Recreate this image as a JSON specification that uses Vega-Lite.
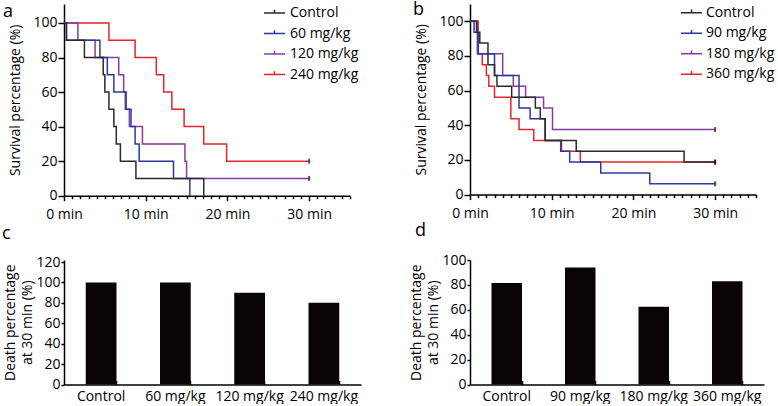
{
  "$schema": "https://vega.github.io/schema/vega-lite/v6.json",
  "background": "white",
  "padding": {"left": 2, "top": 1, "right": 0, "bottom": 0},
  "config": {
    "font": "Open Sans",
    "view": {"stroke": null},
    "axis": {"labelFont": "Open Sans", "labelFontSize": 14, "labelColor": "#000", "titleFont": "Open Sans", "titleFontSize": 14, "titleFontWeight": "normal", "titleColor": "#000", "domainColor": "#000", "tickColor": "#000", "domainWidth": 1.5, "tickWidth": 1.5, "grid": false, "labelOverlap": false},
    "legend": {"labelFont": "Open Sans", "labelFontSize": 14, "labelColor": "#000", "padding": 0},
    "title": {"font": "Open Sans", "fontSize": 18, "fontWeight": "normal", "color": "#000", "anchor": "start", "frame": "group", "baseline": "alphabetic", "offset": 0}
  },
  "datasets": {
    "curvesA": [
      {"group": "240 mg/kg", "time": 0, "survival": 100, "censored": false},
      {"group": "240 mg/kg", "time": 5.5, "survival": 90, "censored": false},
      {"group": "240 mg/kg", "time": 8.7, "survival": 80, "censored": false},
      {"group": "240 mg/kg", "time": 11.3, "survival": 70, "censored": false},
      {"group": "240 mg/kg", "time": 12.2, "survival": 60, "censored": false},
      {"group": "240 mg/kg", "time": 13.2, "survival": 50, "censored": false},
      {"group": "240 mg/kg", "time": 14.7, "survival": 40, "censored": false},
      {"group": "240 mg/kg", "time": 17.1, "survival": 30, "censored": false},
      {"group": "240 mg/kg", "time": 19.9, "survival": 20, "censored": false},
      {"group": "240 mg/kg", "time": 30, "survival": 20, "censored": true},
      {"group": "120 mg/kg", "time": 0, "survival": 100, "censored": false},
      {"group": "120 mg/kg", "time": 1.7, "survival": 90, "censored": false},
      {"group": "120 mg/kg", "time": 3.8, "survival": 80, "censored": false},
      {"group": "120 mg/kg", "time": 6.7, "survival": 70, "censored": false},
      {"group": "120 mg/kg", "time": 7.3, "survival": 60, "censored": false},
      {"group": "120 mg/kg", "time": 7.5, "survival": 50, "censored": false},
      {"group": "120 mg/kg", "time": 8.0, "survival": 40, "censored": false},
      {"group": "120 mg/kg", "time": 9.6, "survival": 30, "censored": false},
      {"group": "120 mg/kg", "time": 14.8, "survival": 20, "censored": false},
      {"group": "120 mg/kg", "time": 15.0, "survival": 10, "censored": false},
      {"group": "120 mg/kg", "time": 30, "survival": 10, "censored": true},
      {"group": "60 mg/kg", "time": 0, "survival": 100, "censored": false},
      {"group": "60 mg/kg", "time": 0.3, "survival": 90, "censored": false},
      {"group": "60 mg/kg", "time": 4.4, "survival": 80, "censored": false},
      {"group": "60 mg/kg", "time": 5.3, "survival": 70, "censored": false},
      {"group": "60 mg/kg", "time": 6.1, "survival": 60, "censored": false},
      {"group": "60 mg/kg", "time": 7.6, "survival": 50, "censored": false},
      {"group": "60 mg/kg", "time": 8.2, "survival": 40, "censored": false},
      {"group": "60 mg/kg", "time": 8.7, "survival": 30, "censored": false},
      {"group": "60 mg/kg", "time": 9.2, "survival": 20, "censored": false},
      {"group": "60 mg/kg", "time": 13.4, "survival": 10, "censored": false},
      {"group": "60 mg/kg", "time": 15.4, "survival": 0, "censored": false},
      {"group": "Control", "time": 0, "survival": 100, "censored": false},
      {"group": "Control", "time": 0.3, "survival": 90, "censored": false},
      {"group": "Control", "time": 2.5, "survival": 80, "censored": false},
      {"group": "Control", "time": 4.8, "survival": 70, "censored": false},
      {"group": "Control", "time": 5.0, "survival": 60, "censored": false},
      {"group": "Control", "time": 5.5, "survival": 50, "censored": false},
      {"group": "Control", "time": 6.1, "survival": 40, "censored": false},
      {"group": "Control", "time": 6.4, "survival": 30, "censored": false},
      {"group": "Control", "time": 6.9, "survival": 20, "censored": false},
      {"group": "Control", "time": 8.8, "survival": 10, "censored": false},
      {"group": "Control", "time": 17.1, "survival": 0, "censored": false}
    ],
    "curvesB": [
      {"group": "360 mg/kg", "time": 0, "survival": 100, "censored": false},
      {"group": "360 mg/kg", "time": 1.0, "survival": 81.25, "censored": false},
      {"group": "360 mg/kg", "time": 1.5, "survival": 75, "censored": false},
      {"group": "360 mg/kg", "time": 2.0, "survival": 68.75, "censored": false},
      {"group": "360 mg/kg", "time": 2.3, "survival": 62.5, "censored": false},
      {"group": "360 mg/kg", "time": 3.0, "survival": 56.25, "censored": false},
      {"group": "360 mg/kg", "time": 5.0, "survival": 43.75, "censored": false},
      {"group": "360 mg/kg", "time": 6.0, "survival": 37.5, "censored": false},
      {"group": "360 mg/kg", "time": 7.8, "survival": 31.25, "censored": false},
      {"group": "360 mg/kg", "time": 11.2, "survival": 25, "censored": false},
      {"group": "360 mg/kg", "time": 13.5, "survival": 18.75, "censored": false},
      {"group": "360 mg/kg", "time": 30, "survival": 18.75, "censored": true},
      {"group": "180 mg/kg", "time": 0, "survival": 100, "censored": false},
      {"group": "180 mg/kg", "time": 0.9, "survival": 81.25, "censored": false},
      {"group": "180 mg/kg", "time": 4.0, "survival": 68.75, "censored": false},
      {"group": "180 mg/kg", "time": 5.3, "survival": 62.5, "censored": false},
      {"group": "180 mg/kg", "time": 6.8, "survival": 56.25, "censored": false},
      {"group": "180 mg/kg", "time": 9.0, "survival": 50, "censored": false},
      {"group": "180 mg/kg", "time": 10.1, "survival": 37.5, "censored": false},
      {"group": "180 mg/kg", "time": 30, "survival": 37.5, "censored": true},
      {"group": "90 mg/kg", "time": 0, "survival": 100, "censored": false},
      {"group": "90 mg/kg", "time": 0.5, "survival": 93.75, "censored": false},
      {"group": "90 mg/kg", "time": 1.0, "survival": 81.25, "censored": false},
      {"group": "90 mg/kg", "time": 3.0, "survival": 68.75, "censored": false},
      {"group": "90 mg/kg", "time": 6.0, "survival": 50, "censored": false},
      {"group": "90 mg/kg", "time": 7.35, "survival": 43.75, "censored": false},
      {"group": "90 mg/kg", "time": 9.2, "survival": 31.25, "censored": false},
      {"group": "90 mg/kg", "time": 11.1, "survival": 25, "censored": false},
      {"group": "90 mg/kg", "time": 12.2, "survival": 18.75, "censored": false},
      {"group": "90 mg/kg", "time": 16.0, "survival": 12.5, "censored": false},
      {"group": "90 mg/kg", "time": 22.0, "survival": 6.25, "censored": false},
      {"group": "90 mg/kg", "time": 30, "survival": 6.25, "censored": true},
      {"group": "Control", "time": 0, "survival": 100, "censored": false},
      {"group": "Control", "time": 0.8, "survival": 93.75, "censored": false},
      {"group": "Control", "time": 1.2, "survival": 87.5, "censored": false},
      {"group": "Control", "time": 2.2, "survival": 75, "censored": false},
      {"group": "Control", "time": 3.0, "survival": 68.75, "censored": false},
      {"group": "Control", "time": 3.3, "survival": 62.5, "censored": false},
      {"group": "Control", "time": 5.1, "survival": 56.25, "censored": false},
      {"group": "Control", "time": 8.0, "survival": 50, "censored": false},
      {"group": "Control", "time": 8.6, "survival": 43.75, "censored": false},
      {"group": "Control", "time": 9.2, "survival": 31.25, "censored": false},
      {"group": "Control", "time": 13.0, "survival": 25, "censored": false},
      {"group": "Control", "time": 26.2, "survival": 18.75, "censored": false},
      {"group": "Control", "time": 30, "survival": 18.75, "censored": true}
    ],
    "barsC": [
      {"group": "Control", "death": 100},
      {"group": "60 mg/kg", "death": 100},
      {"group": "120 mg/kg", "death": 90},
      {"group": "240 mg/kg", "death": 80}
    ],
    "barsD": [
      {"group": "Control", "death": 81.5},
      {"group": "90 mg/kg", "death": 94},
      {"group": "180 mg/kg", "death": 62.5},
      {"group": "360 mg/kg", "death": 83}
    ]
  },
  "columns": 2,
  "spacing": {"row": 64, "column": 109},
  "bounds": "flush",
  "resolve": {"scale": {"color": "independent", "x": "independent", "y": "independent"}, "legend": {"color": "independent"}},
  "concat": [
    {
      "width": 286,
      "height": 191.7,
      "title": {"text": "a", "dx": -61, "dy": 23},
      "data": {"name": "curvesA"},
      "encoding": {
        "x": {"field": "time", "type": "quantitative", "scale": {"domain": [0, 35], "nice": false},
          "axis": {"title": null, "values": [0,1,2,3,4,5,6,7,8,9,10,11,12,13,14,15,16,17,18,19,20,21,22,23,24,25,26,27,28,29,30,31,32,33,34,35],
            "labelExpr": "datum.value % 10 === 0 ? datum.value + ' min' : ''",
            "tickSize": {"condition": {"test": "datum.value % 10 === 0", "value": 5}, "value": 3},
            "labelPadding": 7, "labelFlush": false, "labelOverlap": false, "labelBound": false}},
        "y": {"field": "survival", "type": "quantitative", "scale": {"domain": [0, 111], "nice": false},
          "axis": {"title": "Survival percentage (%)", "values": [0, 20, 40, 60, 80, 100], "tickSize": 6, "labelPadding": 1, "titlePadding": 10, "labelOverlap": false}}
      },
      "layer": [
        {
          "mark": {"type": "line", "interpolate": "step-after", "strokeWidth": 1.5},
          "encoding": {
            "color": {"field": "group", "type": "nominal",
              "scale": {"domain": ["Control", "60 mg/kg", "120 mg/kg", "240 mg/kg"], "range": ["#2b2b2b", "#2a3a9e", "#8a3a9c", "#e3262d"]},
              "legend": {"title": null, "orient": "none", "legendX": 199, "legendY": -2.5, "symbolType": "M-1,0H1M0,0V-0.3", "symbolSize": 441, "symbolStrokeWidth": 1.5, "rowPadding": 1.5, "labelOffset": 4}}
          }
        },
        {
          "transform": [{"filter": "datum.censored"}],
          "mark": {"type": "tick", "orient": "vertical", "size": 5, "thickness": 2, "color": "#111"},
          "encoding": {}
        }
      ]
    },
    {
      "width": 286,
      "height": 190.6,
      "title": {"text": "b", "dx": -57, "dy": 22},
      "data": {"name": "curvesB"},
      "encoding": {
        "x": {"field": "time", "type": "quantitative", "scale": {"domain": [0, 35], "nice": false},
          "axis": {"title": null, "values": [0,1,2,3,4,5,6,7,8,9,10,11,12,13,14,15,16,17,18,19,20,21,22,23,24,25,26,27,28,29,30,31,32,33,34,35],
            "labelExpr": "datum.value % 10 === 0 ? datum.value + ' min' : ''",
            "tickSize": {"condition": {"test": "datum.value % 10 === 0", "value": 5}, "value": 3},
            "labelPadding": 7, "labelFlush": false, "labelOverlap": false, "labelBound": false}},
        "y": {"field": "survival", "type": "quantitative", "scale": {"domain": [0, 110], "nice": false},
          "axis": {"title": "Survival percentage (%)", "values": [0, 20, 40, 60, 80, 100], "tickSize": 6, "labelPadding": 1, "titlePadding": 10, "labelOverlap": false}}
      },
      "layer": [
        {
          "mark": {"type": "line", "interpolate": "step-after", "strokeWidth": 1.5},
          "encoding": {
            "color": {"field": "group", "type": "nominal",
              "scale": {"domain": ["Control", "90 mg/kg", "180 mg/kg", "360 mg/kg"], "range": ["#2b2b2b", "#2a3a9e", "#8a3a9c", "#e3262d"]},
              "legend": {"title": null, "orient": "none", "legendX": 210, "legendY": -2.8, "symbolType": "M-1,0H1M0,0V-0.3", "symbolSize": 441, "symbolStrokeWidth": 1.5, "rowPadding": 1.5, "labelOffset": 3}}
          }
        },
        {
          "transform": [{"filter": "datum.censored"}],
          "mark": {"type": "tick", "orient": "vertical", "size": 5, "thickness": 2, "color": "#111"},
          "encoding": {}
        }
      ]
    },
    {
      "width": 297,
      "height": 124.5,
      "title": {"text": "c", "dx": -62, "dy": -8.5},
      "data": {"name": "barsC"},
      "mark": {"type": "bar", "color": "#0a0405"},
      "encoding": {
        "x": {"field": "group", "type": "nominal", "sort": null, "scale": {"paddingInner": 0.586, "paddingOuter": 0.293},
          "axis": {"title": null, "labelAngle": 0, "bandPosition": 1, "tickSize": -4, "labelPadding": 9}},
        "y": {"field": "death", "type": "quantitative", "scale": {"domain": [0, 122], "nice": false},
          "axis": {"title": ["Death percentage", "at 30 min (%)"], "titleLineHeight": 17, "values": [0, 20, 40, 60, 80, 100, 120], "tickSize": 3, "labelPadding": 1, "titlePadding": 1}}
      }
    },
    {
      "width": 294,
      "height": 124.5,
      "title": {"text": "d", "dx": -55, "dy": -9.5},
      "data": {"name": "barsD"},
      "mark": {"type": "bar", "color": "#0a0405"},
      "encoding": {
        "x": {"field": "group", "type": "nominal", "sort": null, "scale": {"paddingInner": 0.585, "paddingOuter": 0.2925},
          "axis": {"title": null, "labelAngle": 0, "bandPosition": 1, "tickSize": -4, "labelPadding": 9}},
        "y": {"field": "death", "type": "quantitative", "scale": {"domain": [0, 100], "nice": false},
          "axis": {"title": ["Death percentage", "at 30 min (%)"], "titleLineHeight": 17, "values": [0, 20, 40, 60, 80, 100], "tickSize": 3, "labelPadding": 1, "titlePadding": 1}}
      }
    }
  ]
}
